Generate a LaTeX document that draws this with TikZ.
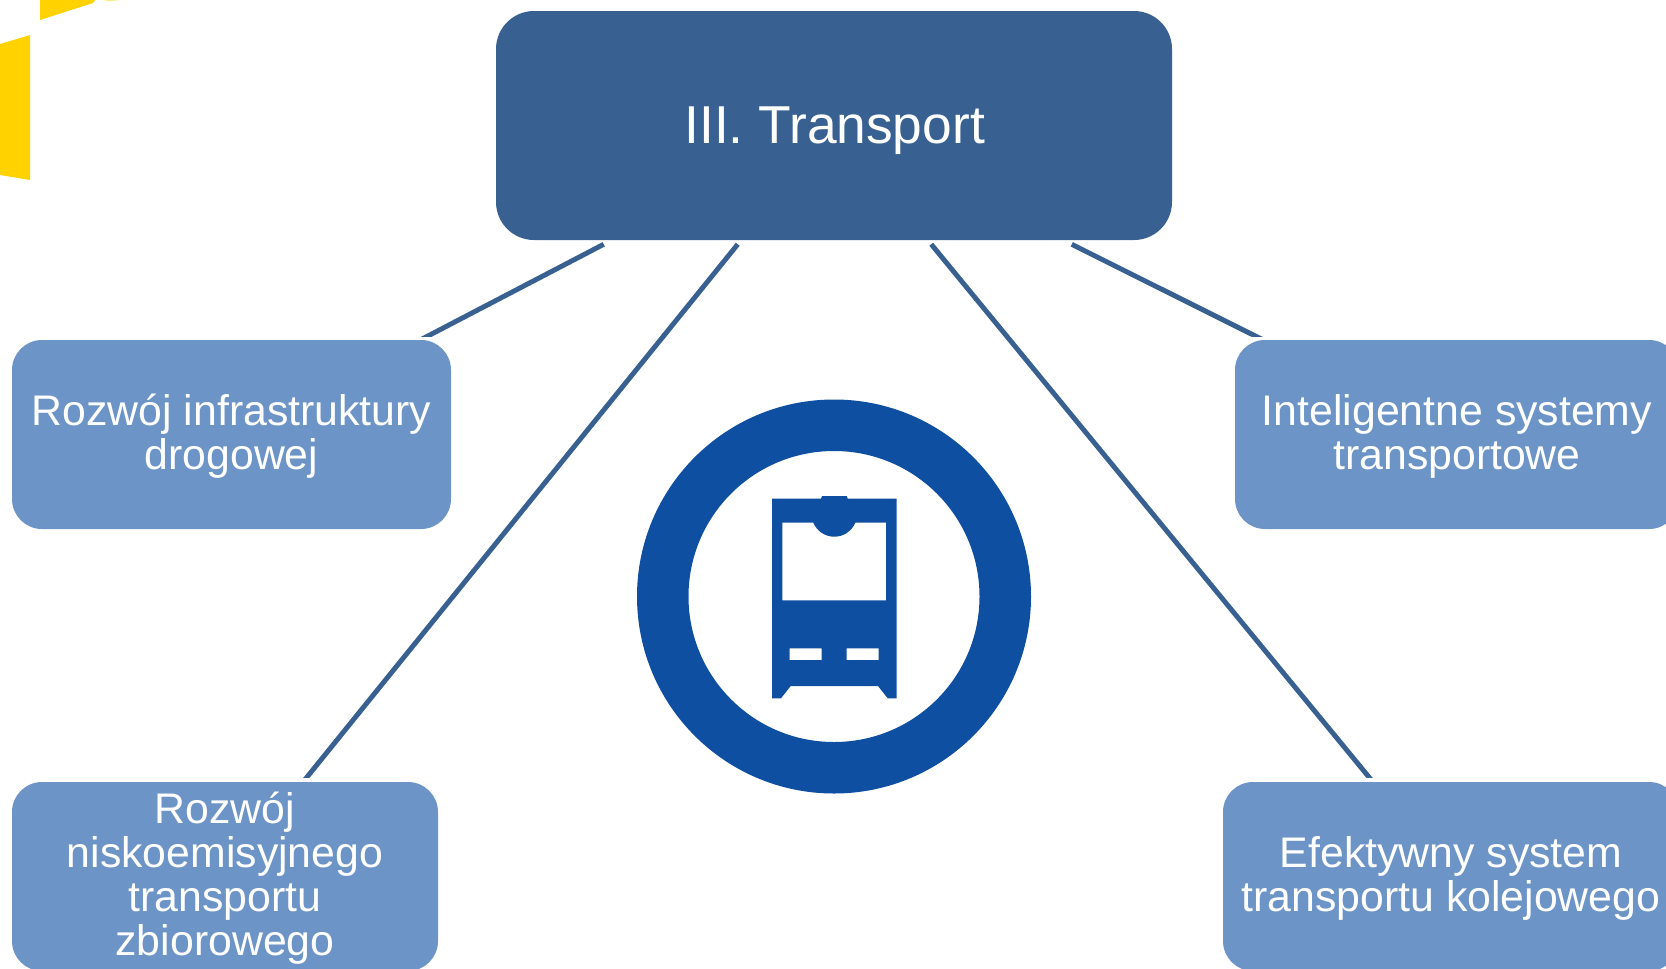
\documentclass[tikz,border=0pt]{standalone}
\usepackage{fontspec}
\setmainfont{Liberation Sans}
\usetikzlibrary{calc}
\definecolor{mainblue}{HTML}{386192}
\definecolor{subblue}{HTML}{6C94C6}
\definecolor{iconblue}{HTML}{0F4FA1}
\definecolor{logoyellow}{HTML}{FFD200}
\newcommand{\substrut}{\rule{0pt}{26.6pt}}
\newcommand{\mainstrut}{\rule{0pt}{35.2pt}}
\tikzset{
  mainbox/.style={draw=none,fill=mainblue,rounded corners=38*0.75pt,minimum width=676*0.75pt,minimum height=229*0.75pt,text=white,inner sep=0pt,font=\fontsize{40pt}{44pt}\selectfont},
  subbox/.style={draw=none,fill=subblue,rounded corners=30*0.75pt,minimum height=189*0.75pt,text=white,inner sep=0pt,align=center,font=\fontsize{32.1pt}{33pt}\selectfont},
  conn/.style={draw=mainblue,line width=3.7pt},
  iconfill/.style={fill=iconblue,draw=none},
}
\begin{document}
\begin{tikzpicture}[x=0.75pt,y=-0.75pt]
\useasboundingbox (0,0) rectangle (1666,968);
\clip (0,0) rectangle (1666,968);
% logo fragments
\fill[logoyellow] (0,44) -- (30,35) -- (30,180) -- (0,175) -- cycle;
\fill[logoyellow] (40,0) -- (40,20) -- (93,3) -- (95,0) -- cycle;
\fill[logoyellow!50] (102,0) -- (110,1.2) -- (120,0) -- cycle;
% boxes
\node[mainbox] (top) at (834,125.5) {\mainstrut\kern1pt III. Transport};
\node[subbox,minimum width=439*0.75pt] (road) at (231.5,434.5) {\substrut Rozwój infrastruktury\\drogowej};
\node[subbox,minimum width=444*0.75pt] (its) at (1457,434.5) {\substrut Inteligentne systemy\\transportowe};
\node[subbox,minimum width=426*0.75pt] (bus) at (225,876.5) {\substrut Rozwój\\niskoemisyjnego\\transportu\\zbiorowego};
\node[subbox,minimum width=456*0.75pt] (rail) at (1451,876.5) {\substrut Efektywny system\\transportu kolejowego};
% connectors (lower ends cut level, just above the boxes)
\coordinate (c1a) at ($(top.south west)+(108,4)$);
\coordinate (c1b) at ($(road.north west)+(409,0)$);
\coordinate (c2a) at ($(top.south west)+(242,4)$);
\coordinate (c2b) at ($(bus.north west)+(291.5,0)$);
\coordinate (c3a) at ($(top.south west)+(435.5,4)$);
\coordinate (c3b) at ($(rail.north west)+(150,0)$);
\coordinate (c4a) at ($(top.south west)+(576,4)$);
\coordinate (c4b) at ($(its.north west)+(28,0)$);
\begin{scope}
  \clip (0,0) rectangle (1666,336.5);
  \draw[conn] (c1a) -- (c1b);
  \draw[conn] (c4a) -- (c4b);
\end{scope}
\begin{scope}
  \clip (0,0) rectangle (1666,777);
  \draw[conn] (c2a) -- (c2b);
  \draw[conn] (c3a) -- (c3b);
\end{scope}
% icon
\fill[iconfill,even odd rule] (834,596.5) circle (197) (834,596.5) circle (145.5);
\fill[iconfill,even odd rule]
  (772,498.7) -- (821,498.7) -- (822,496) -- (846.7,496) -- (847.7,498.7) -- (896.7,498.7)
  -- (896.7,698.3) -- (887.7,698.3) -- (878,686) -- (790.7,686) -- (781,698.3) -- (772,698.3) -- cycle
  (782.3,522.7) -- (813.3,522.7) .. controls (816.9,531.2) and (825.1,536.7) .. (834.3,536.7)
  .. controls (843.5,536.7) and (851.7,531.2) .. (855.3,522.7) -- (886,522.7) -- (886,600.3) -- (782.3,600.3) -- cycle
  (789.7,648.3) rectangle (821.7,660)
  (846.7,648.3) rectangle (878.7,660);
\end{tikzpicture}
\end{document}
